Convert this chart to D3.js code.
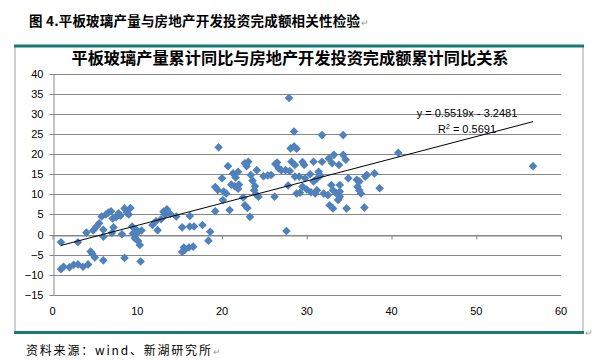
<!DOCTYPE html>
<html><head><meta charset="utf-8">
<script src="https://cdn.jsdelivr.net/npm/d3@7/dist/d3.min.js"></script>
<style>
body{margin:0;background:#fff;}
svg{display:block;}
</style></head>
<body>
<svg id="c" width="606" height="360"></svg>
<script>
// ---- data ----
const xValues = [
 1.0,1.0,1.3,2.0,2.5,3.0,3.0,3.6,4.2,4.0,4.5,4.7,5.0,4.8,5.2,5.5,5.8,6.0,6.0,6.0,6.3,6.6,6.9,7.0,7.1,7.2,7.5,7.8,8.0,8.2,8.5,8.5,8.8,9.0,9.2,9.4,9.5,9.7,9.9,10.1,10.3,10.4,10.5,10.0,
 11.8,12.2,12.4,12.8,13.1,13.5,13.3,13.9,14.6,15.3,15.3,15.5,15.6,16.1,16.6,16.2,16.2,16.7,17.7,18.4,18.6,
 19.2,19.2,19.5,19.6,20.0,20.1,20.2,20.5,20.7,20.9,21.1,21.3,21.6,21.9,21.5,22.0,21.9,22.5,22.7,23.1,22.9,22.7,23.0,23.3,23.4,23.6,23.9,23.8,24.0,24.3,24.1,24.9,25.4,25.8,26.2,26.3,26.5,26.7,27.0,27.5,27.8,27.6,28.0,27.9,
 28.5,28.1,28.5,28.8,28.2,28.6,29.5,29.7,30.8,31.8,32.6,33.2,34.3,34.6,33.0,33.8,31.8,34.3,28.6,29.1,29.8,30.4,31.4,31.6,31.2,30.8,28.8,29.2,29.5,30.0,30.5,31.2,31.0,32.0,32.5,32.9,33.1,33.4,32.7,33.1,33.7,33.9,33.9,33.9,34.7,34.9,35.9,36.2,36.0,36.2,36.4,36.9,37.1,38.0,38.6,36.8,40.8,56.7
];
const yValues = [
 -1.9,-8.6,-8.0,-8.1,-7.5,-1.9,-7.4,-8.0,-7.4,0.5,-4.2,-4.8,-5.7,1.0,2.0,2.8,4.5,-0.5,1.2,-6.4,5.0,5.5,5.8,0.4,4.0,1.8,4.3,5.3,4.7,0.1,-5.8,6.5,5.4,5.0,6.6,2.0,0.3,-0.9,1.2,-1.6,-2.6,-6.7,1.0,0.5,
 2.4,3.3,1.1,3.8,5.7,6.3,4.9,5.1,4.5,1.8,-4.3,-3.2,-3.8,-3.2,-3.0,4.6,2.0,2.0,2.4,-1.5,0.7,
 5.8,11.8,11.1,21.7,14.0,8.6,10.7,10.2,17.0,6.1,12.4,15.2,14.2,15.6,12.0,12.4,11.4,9.2,17.7,18.1,17.0,7.3,6.6,4.4,14.8,13.4,12.0,11.0,10.0,9.4,16.0,14.5,14.7,14.8,9.4,17.5,17.9,16.4,16.0,16.0,12.2,0.9,15.8,33.9,
 25.6,21.4,21.9,21.3,18.1,17.3,18.0,17.3,18.1,18.1,18.9,19.8,19.8,18.6,17.7,17.3,24.7,24.7,14.4,14.4,14.0,15.0,15.6,14.7,13.9,13.2,10.2,10.4,11.9,11.2,10.5,11.0,10.2,10.2,9.8,12.3,11.0,10.4,7.3,6.5,8.6,9.4,10.7,12.3,6.5,14.0,13.6,13.2,11.9,11.0,10.2,14.4,14.8,15.2,11.5,6.7,20.3,17.0
];
const xTicks = [0,10,20,30,40,50,60];
const yTicks = [-15,-10,-5,0,5,10,15,20,25,30,35,40];
const trendSlope = 0.5519, trendIntercept = -3.2481, rSquared = 0.5691;
const figTitle = "图 4.平板玻璃产量与房地产开发投资完成额相关性检验";
const chartTitle = "平板玻璃产量累计同比与房地产开发投资完成额累计同比关系";
const sourceText = "资料来源：wind、新湖研究所";

// ---- drawing ----
const svg = d3.select("#c");
const x = d3.scaleLinear().domain([0,60]).range([52.5,561]);
const y = d3.scaleLinear().domain([-15,40]).range([295,73.5]);
const gridCol = "#878787";
const latin = "'Liberation Sans', Arial, sans-serif";
const cjk = "'Noto Sans CJK SC', sans-serif";

// figure title
const ft = svg.append("text").attr("x",29).attr("y",26)
  .attr("font-family",cjk).attr("font-size",13.5).attr("font-weight","bold").attr("fill","#000")
  .attr("letter-spacing",0.2)
  .text(figTitle);
const ftEnd = 29 + ft.node().getComputedTextLength();
svg.append("text").attr("x",ftEnd+1).attr("y",26).attr("font-family",latin).attr("font-size",9).attr("fill","#999").text("↵");

// chart frame
svg.append("line").attr("x1",15).attr("x2",15).attr("y1",46).attr("y2",333).attr("stroke","#a0a0a0").attr("stroke-width",1);
svg.append("line").attr("x1",583).attr("x2",583).attr("y1",46).attr("y2",333).attr("stroke","#a0a0a0").attr("stroke-width",1);
svg.append("rect").attr("x",14).attr("y",44.5).attr("width",570).attr("height",3).attr("fill","#177a76");
svg.append("rect").attr("x",14).attr("y",331).attr("width",570).attr("height",3).attr("fill","#177a76");
svg.append("text").attr("x",585).attr("y",336).attr("font-family",latin).attr("font-size",9).attr("fill","#999").text("↵");

// chart title
svg.append("text").attr("x",290).attr("y",64).attr("text-anchor","middle")
  .attr("font-family",cjk).attr("font-size",16.2).attr("font-weight","bold").attr("fill","#000")
  .text(chartTitle);

// gridlines
svg.append("g").selectAll("line").data(yTicks).join("line")
  .attr("x1",x(0)).attr("x2",x(60))
  .attr("y1",d=>Math.round(y(d))+0.5).attr("y2",d=>Math.round(y(d))+0.5)
  .attr("stroke",gridCol).attr("stroke-width",1);

// y axis
const yAxis = svg.append("g").attr("transform",`translate(${Math.round(x(0))+0.5},0)`)
  .call(d3.axisLeft(y).tickValues(yTicks).tickSize(4).tickPadding(6).tickSizeOuter(0));
yAxis.select(".domain").attr("stroke",gridCol);
yAxis.selectAll(".tick line").attr("stroke",gridCol);
yAxis.selectAll(".tick").attr("transform",d=>`translate(0,${Math.round(y(d))+0.5})`);
yAxis.selectAll("text").attr("font-family",latin).attr("font-size",11).attr("fill","#000");

// x axis at y=0
const xAxis = svg.append("g").attr("transform",`translate(0,${Math.round(y(0))+0.5})`)
  .call(d3.axisBottom(x).tickValues(xTicks).tickSize(4).tickSizeOuter(0).tickFormat(""));
xAxis.select(".domain").attr("stroke",gridCol);
xAxis.selectAll(".tick line").attr("stroke",gridCol);
svg.append("g").selectAll("text").data(xTicks).join("text")
  .attr("x",d=>x(d)).attr("y",315).attr("text-anchor","middle")
  .attr("font-family",latin).attr("font-size",11).attr("fill","#000")
  .text(d=>d);

// points
const pts = xValues.map((v,i)=>[v,yValues[i]]);
const dia = "M0,-4.3L4.3,0L0,4.3L-4.3,0Z";
svg.append("g").selectAll("path").data(pts).join("path")
  .attr("d",dia).attr("transform",d=>`translate(${x(d[0])},${y(d[1])})`)
  .attr("fill","#4f81bd");

// trendline
const xmin = d3.min(xValues), xmax = d3.max(xValues);
svg.append("line")
  .attr("x1",x(xmin)).attr("y1",y(trendSlope*xmin+trendIntercept))
  .attr("x2",x(xmax)).attr("y2",y(trendSlope*xmax+trendIntercept))
  .attr("stroke","#000").attr("stroke-width",1);

// equation labels
svg.append("text").attr("x",467).attr("y",117).attr("text-anchor","middle")
  .attr("font-family",latin).attr("font-size",11).attr("fill","#000")
  .text(`y = ${trendSlope}x - ${Math.abs(trendIntercept)}`);
const r2 = svg.append("text").attr("x",467).attr("y",133).attr("text-anchor","middle")
  .attr("font-family",latin).attr("font-size",11).attr("fill","#000");
r2.append("tspan").text("R");
r2.append("tspan").attr("font-size",7).attr("dy",-4).text("2");
r2.append("tspan").attr("dy",4).text(` = ${rSquared}`);

// source
const st = svg.append("text").attr("x",26).attr("y",355)
  .attr("font-family",cjk).attr("font-size",12).attr("letter-spacing",1.8).attr("fill","#000")
  .text(sourceText);
const stEnd = 26 + st.node().getComputedTextLength();
svg.append("text").attr("x",stEnd).attr("y",355).attr("font-family",latin).attr("font-size",9).attr("fill","#999").text("↵");
</script>
</body></html>
